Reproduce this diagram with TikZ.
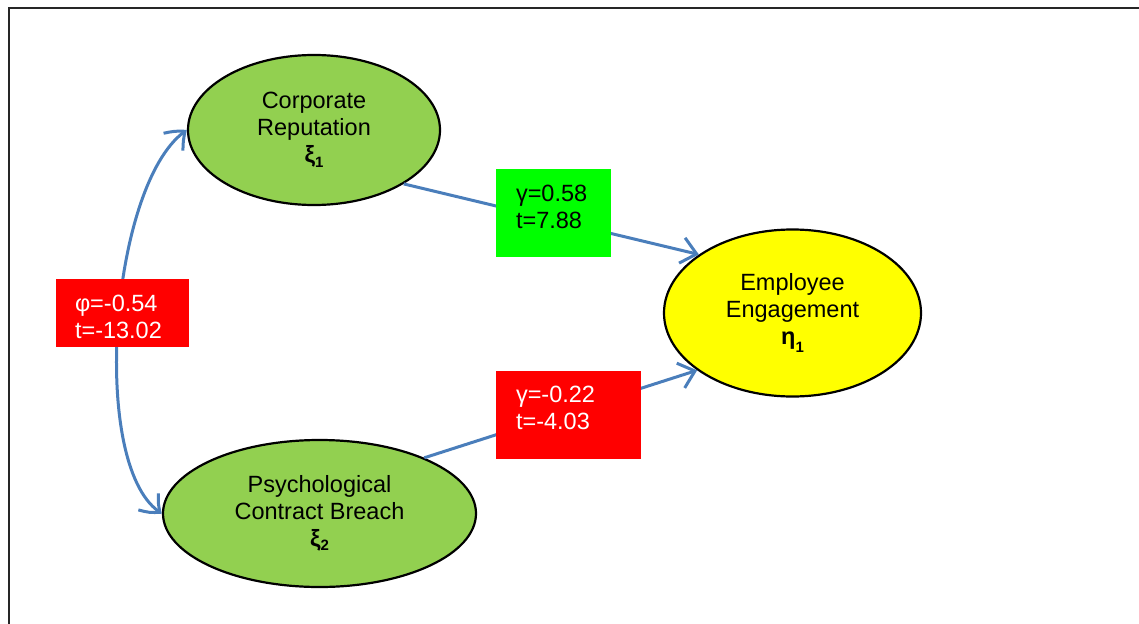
\documentclass[tikz,border=0pt]{standalone}
\usepackage{fontspec}
\setmainfont{Liberation Sans}
\usetikzlibrary{arrows.meta,shapes.geometric,bending}

\definecolor{pathblue}{HTML}{4A7EBB}
\definecolor{latgreen}{HTML}{92D050}
\definecolor{latyellow}{HTML}{FFFF00}
\definecolor{coefred}{HTML}{FF0000}
\definecolor{coefgreen}{HTML}{00FF00}

% subscript index for latent variable symbols
\newcommand\latsub[2][-0.18em]{\raisebox{#1}{\fontsize{15}{15}\selectfont\bfseries #2}}

\begin{document}
\begin{tikzpicture}[x=1pt,y=-1pt,
  latent/.style={ellipse, draw=black, line width=2.2pt, inner sep=0pt,
    align=center, font=\fontsize{23.5}{27}\selectfont},
  coef/.style={rectangle, inner sep=0pt, inner xsep=20pt, align=left,
    text height=17pt, font=\fontsize{23.5}{27}\selectfont},
  barb/.tip={Straight Barb[length=15pt,width=26pt,bend]},
  effect/.style={draw=pathblue, line width=3pt, -barb},
]
\useasboundingbox (0,0) rectangle (1139,623);
\clip (0,0) rectangle (1139,623);

% outer frame
\draw[line width=2.4pt, black!85] (9,8) rectangle (1300,800);

% latent variables
\node[latent, fill=latgreen, minimum width=252pt, minimum height=150pt]
  (cr) at (314,130) {Corporate\\Reputation\\\textbf{ξ}\latsub{1}};
\node[latent, fill=latgreen, minimum width=313pt, minimum height=147pt]
  (pcb) at (319.5,513.5) {Psychological\\Contract Breach\\\textbf{ξ}\latsub{2}};
\node[latent, fill=latyellow, minimum width=257pt, minimum height=167pt]
  (ee) at (792.5,313) {Employee\\Engagement\\\textbf{η}\latsub[-0.3em]{1}};

% correlation between the exogenous constructs
\draw[draw=pathblue, line width=3pt, barb-barb]
  (pcb.west) .. controls (88,470) and (110,180) .. (cr.west);

% structural paths
\draw[effect] (cr.-31) -- (ee.148);
\draw[effect] (pcb.28) -- (ee.211);

% coefficient boxes
\node[coef, fill=coefred, text=white, inner xsep=19pt, text width=95pt,
  minimum height=68pt, text depth=21pt]
  (phi) at (122.5,313) {φ=-0.54\\t=-13.02};
\node[coef, fill=coefgreen, text=black, text width=75pt,
  minimum height=88pt, text depth=40pt]
  (g1) at (553.5,213) {γ=0.58\\t=7.88};
\node[coef, fill=coefred, text=white, text width=105pt,
  minimum height=88pt, text depth=42pt]
  (g2) at (568.5,415) {γ=-0.22\\t=-4.03};
\end{tikzpicture}
\end{document}
